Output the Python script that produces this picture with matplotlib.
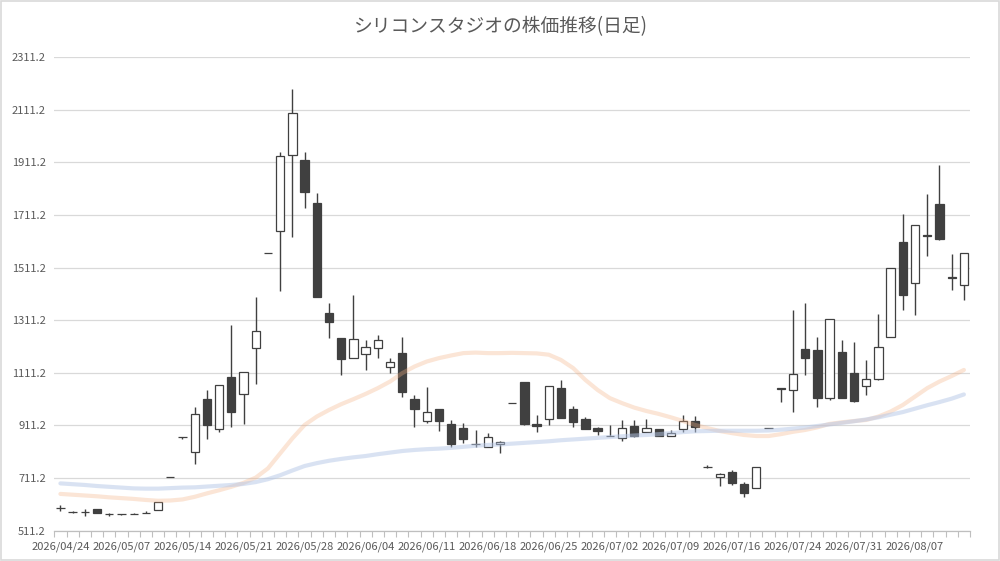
"""Daily candlestick chart for Silicon Studio share price with two moving averages."""
import matplotlib

matplotlib.use("Agg")
import matplotlib.pyplot as plt
from matplotlib.patches import Rectangle
import numpy as np

plt.rcParams["font.family"] = ["Noto Sans CJK JP", "DejaVu Sans"]

TITLE = "シリコンスタジオの株価推移(日足)"

DATES = [
    "2026/04/24", "2026/04/27", "2026/04/28", "2026/04/30", "2026/05/01",
    "2026/05/07", "2026/05/08", "2026/05/11", "2026/05/12", "2026/05/13",
    "2026/05/14", "2026/05/15", "2026/05/18", "2026/05/19", "2026/05/20",
    "2026/05/21", "2026/05/22", "2026/05/25", "2026/05/26", "2026/05/27",
    "2026/05/28", "2026/05/29", "2026/06/01", "2026/06/02", "2026/06/03",
    "2026/06/04", "2026/06/05", "2026/06/08", "2026/06/09", "2026/06/10",
    "2026/06/11", "2026/06/12", "2026/06/15", "2026/06/16", "2026/06/17",
    "2026/06/18", "2026/06/19", "2026/06/22", "2026/06/23", "2026/06/24",
    "2026/06/25", "2026/06/26", "2026/06/29", "2026/06/30", "2026/07/01",
    "2026/07/02", "2026/07/03", "2026/07/06", "2026/07/07", "2026/07/08",
    "2026/07/09", "2026/07/10", "2026/07/13", "2026/07/14", "2026/07/15",
    "2026/07/16", "2026/07/17", "2026/07/21", "2026/07/22", "2026/07/23",
    "2026/07/24", "2026/07/27", "2026/07/28", "2026/07/29", "2026/07/30",
    "2026/07/31", "2026/08/03", "2026/08/04", "2026/08/05", "2026/08/06",
    "2026/08/07", "2026/08/10", "2026/08/12", "2026/08/13", "2026/08/14",
]

OPEN = [
    597, 583, 582, 594, 576, 574, 576, 577, 590, 717,
    869, 809, 1012, 897, 1096, 1030, 1205, 1568, 1650, 1939,
    1920, 1756, 1338, 1243, 1167, 1182, 1205, 1132, 1186, 1011,
    927, 973, 916, 900, 842, 831, 840, 998, 1075, 916,
    937, 1053, 973, 935, 902, 872, 865, 909, 888, 897,
    872, 897, 927, 755, 714, 733, 689, 672, 903, 1052,
    1045, 1201, 1197, 1015, 1190, 1110, 1060, 1089, 1249, 1608,
    1452, 1633, 1753, 1474, 1444,
]
HIGH = [
    608, 586, 594, 595, 577, 575, 577, 587, 619, 717,
    869, 983, 1045, 1064, 1293, 1113, 1399, 1568, 1950, 2189,
    1950, 1796, 1376, 1243, 1406, 1234, 1254, 1167, 1247, 1026,
    1056, 973, 932, 920, 893, 882, 853, 998, 1075, 950,
    1060, 1083, 985, 942, 907, 912, 931, 932, 935, 897,
    894, 950, 946, 761, 731, 742, 695, 752, 903, 1052,
    1350, 1376, 1247, 1317, 1235, 1230, 1159, 1334, 1509, 1714,
    1672, 1791, 1902, 1562, 1566,
]
LOW = [
    587, 580, 568, 579, 567, 572, 575, 577, 590, 716,
    859, 764, 861, 888, 907, 918, 1068, 1567, 1421, 1627,
    1737, 1399, 1243, 1104, 1167, 1121, 1167, 1110, 1018, 907,
    920, 891, 831, 844, 828, 831, 808, 997, 912, 885,
    912, 941, 907, 897, 876, 871, 853, 869, 888, 870,
    872, 887, 888, 751, 682, 686, 638, 672, 902, 1002,
    964, 1101, 983, 1006, 1017, 999, 1028, 1085, 1249, 1348,
    1329, 1554, 1614, 1424, 1389,
]
CLOSE = [
    598, 582, 583, 580, 574, 573, 576, 579, 619, 716,
    868, 954, 912, 1064, 961, 1113, 1269, 1567, 1935, 2098,
    1798, 1399, 1304, 1163, 1239, 1209, 1235, 1154, 1037, 974,
    961, 929, 842, 861, 840, 866, 848, 997, 918, 908,
    1060, 941, 923, 897, 889, 871, 900, 872, 900, 870,
    881, 927, 904, 754, 726, 691, 653, 752, 902, 1051,
    1108, 1167, 1017, 1317, 1017, 1003, 1087, 1208, 1509, 1405,
    1672, 1631, 1618, 1472, 1566,
]

# short (orange) and long (blue) moving averages
MA_SHORT = [
    651, 648, 645, 642, 638, 635, 632, 628, 625, 626,
    630, 640, 653, 665, 678, 693, 713, 748, 805, 862,
    913, 945, 970, 992, 1011, 1031, 1053, 1078, 1110, 1135,
    1154, 1167, 1177, 1186, 1188, 1186, 1186, 1187, 1186, 1185,
    1180, 1160, 1129, 1084, 1046, 1015, 996, 979, 966, 955,
    942, 928, 913, 901, 890, 882, 875, 871, 871, 878,
    887, 894, 904, 917, 923, 928, 932, 945, 964, 989,
    1021, 1053, 1078, 1099, 1122,
]
MA_LONG = [
    691, 688, 685, 681, 678, 675, 672, 671, 671, 673,
    675, 676, 679, 682, 685, 689, 696, 707, 722, 740,
    757, 768, 777, 784, 790, 795, 802, 808, 814, 818,
    821, 823, 826, 830, 834, 837, 839, 842, 845, 848,
    851, 855, 858, 861, 864, 867, 870, 873, 875, 878,
    882, 886, 889, 890, 891, 891, 891, 891, 892, 895,
    899, 903, 909, 915, 921, 927, 934, 942, 952, 962,
    975, 988, 1000, 1013, 1029,
]

Y_TICKS = [511.2, 711.2, 911.2, 1111.2, 1311.2, 1511.2, 1711.2, 1911.2, 2111.2, 2311.2]

TEXT_COLOR = "#595959"
GRID_COLOR = "#D9D9D9"
CANDLE_DARK = "#404040"


def draw_candles(ax):
    x = np.arange(len(DATES))
    o = np.array(OPEN, dtype=float)
    c = np.array(CLOSE, dtype=float)
    bottom = np.minimum(o, c)
    height = np.abs(c - o)
    faces = ["white" if cl >= op else CANDLE_DARK for op, cl in zip(o, c)]

    ax.vlines(x, LOW, HIGH, color=CANDLE_DARK, linewidth=1.0, zorder=2)
    ax.bar(x, height, 0.68, bottom=bottom, color=faces, edgecolor=CANDLE_DARK,
           linewidth=0.9, zorder=3)


def main():
    fig = plt.figure(figsize=(10, 5.61), dpi=100)
    ax = fig.add_axes((0.0543, 0.054, 0.9157, 0.8444))

    draw_candles(ax)

    x = np.arange(len(DATES))
    ax.plot(x, MA_SHORT, color="#F4B183", alpha=0.33, linewidth=3.0, zorder=4,
            solid_capstyle="round")
    ax.plot(x, MA_LONG, color="#B4C7E7", alpha=0.5, linewidth=3.0, zorder=4,
            solid_capstyle="round")

    ax.set_xlim(-0.5, len(DATES) - 0.5)
    ax.set_ylim(Y_TICKS[0], Y_TICKS[-1])

    ax.set_yticks(Y_TICKS)
    ax.set_yticklabels([f"{v:.1f}" for v in Y_TICKS])
    ax.grid(True, axis="y", color=GRID_COLOR, linewidth=0.9, zorder=0)
    ax.set_axisbelow(True)

    label_idx = list(range(0, len(DATES), 5))
    ax.set_xticks(label_idx)
    ax.set_xticklabels([DATES[i] for i in label_idx])
    ax.set_xticks(np.arange(-0.5, len(DATES), 1.0), minor=True)
    ax.tick_params(axis="x", which="major", length=0, pad=8, labelsize=8, colors=TEXT_COLOR)
    ax.tick_params(axis="x", which="minor", length=4, width=0.8, color="#BFBFBF")
    ax.tick_params(axis="y", length=0, pad=6, labelsize=8, colors=TEXT_COLOR)

    for side in ("top", "right", "left"):
        ax.spines[side].set_visible(False)
    ax.spines["bottom"].set_color("#BFBFBF")
    ax.spines["bottom"].set_linewidth(0.9)

    fig.text(0.5, 0.952, TITLE, ha="center", va="center", fontsize=13.5, color=TEXT_COLOR)

    # thin border around the whole chart area
    fig.patches.append(Rectangle((0.001, 0.001), 0.998, 0.997, transform=fig.transFigure,
                                 fill=False, edgecolor=GRID_COLOR, linewidth=1.2))

    fig.savefig("out.png", dpi=100)


if __name__ == "__main__":
    main()
